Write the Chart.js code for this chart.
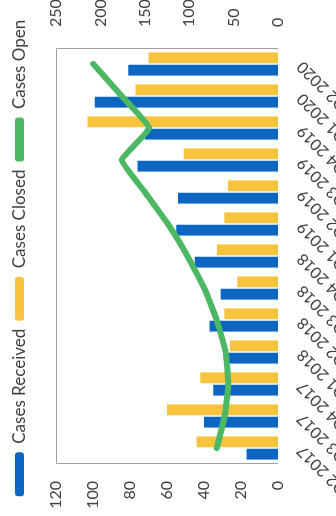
<!DOCTYPE html>
<html>
<head>
<meta charset="utf-8">
<script src="https://cdn.jsdelivr.net/npm/chart.js@4/dist/chart.umd.min.js"></script>
<style>
  html, body { margin: 0; padding: 0; background: #fff; overflow: hidden; width: 336px; height: 516px; }
  /* the landscape chart is turned a quarter turn counter-clockwise */
  #frame { position: absolute; left: 0; top: 0; width: 516px; height: 336px;
           transform-origin: 0 0; transform: translate(0, 516px) rotate(-90deg); }
</style>
</head>
<body>
<div id="frame"><canvas id="chart" width="516" height="336"></canvas></div>
<script>
// Quarterly case counts
const quarters = ['Q2 2017', 'Q3 2017', 'Q4 2017', 'Q1 2018', 'Q2 2018', 'Q3 2018', 'Q4 2018',
                  'Q1 2019', 'Q2 2019', 'Q3 2019', 'Q4 2019', 'Q1 2020', 'Q2 2020'];
const casesReceived = [17, 40, 35, 28, 37, 31, 45, 55, 54, 76, 72, 99, 81];
const casesClosed   = [44, 60, 42, 26, 29, 22, 33, 29, 27, 51, 103, 77, 70];
const casesOpen     = [69, 60, 56, 59, 69, 83, 102, 124, 150, 176, 145, 176, 208];

// Axis ranges: bars on the left axis, open cases on the right axis
const leftAxisTicks  = [0, 20, 40, 60, 80, 100, 120];
const rightAxisTicks = [0, 50, 100, 150, 200, 250];

const BLUE = '#0b66c3';
const YELLOW = '#f7c33d';
const GREEN = '#4cb863';
const TEXT = '#404040';

Chart.defaults.font.family = 'Lato, "Open Sans", sans-serif';
Chart.defaults.color = TEXT;

// grey border round the top, left and right of the plot area
const plotFrame = {
  id: 'plotFrame',
  beforeDatasetsDraw(chart) {
    const { ctx, chartArea: a } = chart;
    ctx.save();
    ctx.strokeStyle = '#a0a0a0';
    ctx.lineWidth = 1;
    ctx.beginPath();
    ctx.moveTo(Math.round(a.left) + 0.5, a.bottom);
    ctx.lineTo(Math.round(a.left) + 0.5, Math.round(a.top) + 0.5);
    ctx.lineTo(Math.round(a.right) - 0.5, Math.round(a.top) + 0.5);
    ctx.lineTo(Math.round(a.right) - 0.5, a.bottom);
    ctx.stroke();
    ctx.restore();
  }
};

new Chart(document.getElementById('chart'), {
  data: {
    labels: quarters,
    datasets: [
      { type: 'bar', label: 'Cases Received', data: casesReceived, backgroundColor: BLUE,
        yAxisID: 'y', order: 2, categoryPercentage: 0.77, barPercentage: 0.88 },
      { type: 'bar', label: 'Cases Closed', data: casesClosed, backgroundColor: YELLOW,
        yAxisID: 'y', order: 3, categoryPercentage: 0.77, barPercentage: 0.88 },
      { type: 'line', label: 'Cases Open', data: casesOpen, borderColor: GREEN, backgroundColor: GREEN,
        borderWidth: 6, pointRadius: 0, tension: 0.1, borderCapStyle: 'round', borderJoinStyle: 'round',
        yAxisID: 'y1', order: 1 }
    ]
  },
  options: {
    responsive: false,
    animation: false,
    devicePixelRatio: 1,
    layout: { padding: { top: 3, left: 0, right: 0, bottom: 0 } },
    plugins: {
      tooltip: { enabled: false },
      legend: {
        position: 'top',
        labels: {
          boxWidth: 44, boxHeight: 9, padding: 8, color: TEXT,
          font: { size: 17 },
          useBorderRadius: true, borderRadius: 3,
          sort: (a, b) => a.datasetIndex - b.datasetIndex,
          generateLabels(chart) {
            const items = Chart.defaults.plugins.legend.labels.generateLabels(chart);
            items.forEach(it => {
              const ds = chart.data.datasets[it.datasetIndex];
              it.fillStyle = ds.type === 'line' ? ds.borderColor : ds.backgroundColor;
              it.strokeStyle = it.fillStyle;
              it.lineWidth = 0;
            });
            return items;
          }
        }
      },
      // empty spacer between legend and plot
      title: { display: true, text: '', weight: 500, font: { size: 10, lineHeight: 1 },
               padding: { top: 8, bottom: 0 } }
    },
    scales: {
      x: {
        grid: { display: false, drawTicks: false },
        border: { display: false },
        ticks: { autoSkip: false, minRotation: 45, maxRotation: 45, padding: 15,
                 font: { size: 16 }, color: TEXT },
        afterFit(scale) { scale.height = 58; }
      },
      y: {
        position: 'left', min: 0, max: 120,
        grid: { display: false, drawTicks: false },
        border: { display: false },
        afterBuildTicks(scale) { scale.ticks = leftAxisTicks.map(v => ({ value: v })); },
        ticks: { padding: 17, font: { size: 16 }, color: TEXT },
        afterFit(scale) { scale.width = 52; }
      },
      y1: {
        position: 'right', min: 0, max: 250,
        grid: { display: false, drawTicks: false },
        border: { display: false },
        afterBuildTicks(scale) { scale.ticks = rightAxisTicks.map(v => ({ value: v })); },
        ticks: { padding: 21, font: { size: 16 }, color: TEXT },
        afterFit(scale) { scale.width = 48; }
      }
    }
  },
  plugins: [plotFrame]
});
</script>
</body>
</html>
